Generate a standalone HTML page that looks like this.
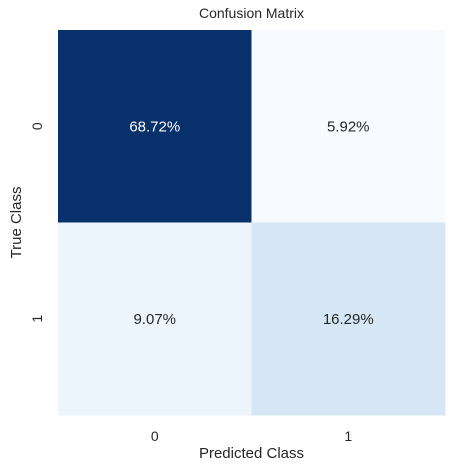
<!DOCTYPE html>
<html><head><meta charset="utf-8"><style>
body{margin:0;background:#fff;}
svg{display:block;font-family:"Liberation Sans","DejaVu Sans",sans-serif;}
</style></head><body>
<svg width="455" height="473">
<g id="cells"></g>
<text x="251.5" y="18" text-anchor="middle" font-size="14" fill="#262626">Confusion Matrix</text>
<text x="251.5" y="458" text-anchor="middle" font-size="15" fill="#262626">Predicted Class</text>
<text transform="translate(21,222.5) rotate(-90)" text-anchor="middle" font-size="15" fill="#262626">True Class</text>
<g id="ticks"></g>
</svg>
<script>
const classes=["0","1"];
const values=[[68.72,5.92],[9.07,16.29]];
const X0=58,Y0=30,W=387,H=385;
const stops=["#f7fbff","#deebf7","#c6dbef","#9ecae1","#6baed6","#4292c6","#2171b5","#08519c","#08306b"];
function hex(c){return [1,3,5].map(i=>parseInt(c.substr(i,2),16));}
function blues(t){t=Math.max(0,Math.min(1,t));const p=t*8,i=Math.min(7,Math.floor(p)),f=p-i;const a=hex(stops[i]),b=hex(stops[i+1]);return "rgb("+a.map((v,k)=>Math.round(v+(b[k]-v)*f)).join(",")+")";}
const flat=values.flat(),vmin=Math.min(...flat),vmax=Math.max(...flat);
const n=classes.length,cw=W/n,ch=H/n;
const ns="http://www.w3.org/2000/svg";
const g=document.getElementById("cells"),tg=document.getElementById("ticks");
for(let r=0;r<n;r++)for(let c=0;c<n;c++){
 const v=values[r][c],t=(v-vmin)/(vmax-vmin);
 const rect=document.createElementNS(ns,"rect");
 rect.setAttribute("x",X0+c*cw);rect.setAttribute("y",Y0+r*ch);
 rect.setAttribute("width",cw+0.5);rect.setAttribute("height",ch+0.5);
 rect.setAttribute("fill",blues(t));
 
 
 g.appendChild(rect);
 const tx=document.createElementNS(ns,"text");
 tx.setAttribute("x",X0+(c+0.5)*cw);tx.setAttribute("y",Y0+(r+0.5)*ch+5);
 tx.setAttribute("text-anchor","middle");tx.setAttribute("font-size","15");
 tx.setAttribute("fill",t>0.5?"#ffffff":"#262626");
 tx.textContent=v.toFixed(2)+"%";
 
 
 g.appendChild(tx);
}
for(let i=0;i<n;i++){
 const xt=document.createElementNS(ns,"text");
 xt.setAttribute("x",X0+(i+0.5)*cw);xt.setAttribute("y",441);
 xt.setAttribute("text-anchor","middle");xt.setAttribute("font-size","14");xt.setAttribute("fill","#262626");
 xt.textContent=classes[i];
 
 
 tg.appendChild(xt);
 const yt=document.createElementNS(ns,"text");
 const cy=Y0+(i+0.5)*ch;
 yt.setAttribute("transform","translate(42,"+cy+") rotate(-90)");
 yt.setAttribute("text-anchor","middle");yt.setAttribute("font-size","14");yt.setAttribute("fill","#262626");
 yt.textContent=classes[i];
 
 
 tg.appendChild(yt);
}
</script>
</body></html>
